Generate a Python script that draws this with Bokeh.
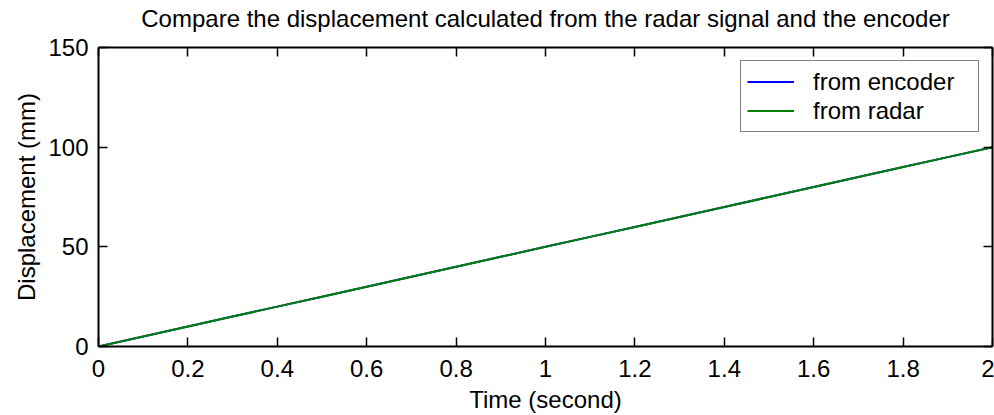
from bokeh.plotting import figure
from bokeh.models import LinearAxis, Range1d, FixedTicker, Legend, LegendItem
from bokeh.embed import file_html
from bokeh.resources import INLINE

# Data
time_s = [0.0, 0.1, 0.2, 0.3, 0.4, 0.5, 0.6, 0.7, 0.8, 0.9, 1.0,
          1.1, 1.2, 1.3, 1.4, 1.5, 1.6, 1.7, 1.8, 1.9, 2.0]
encoder_mm = [0, 5, 10, 15, 20, 25, 30, 35, 40, 45, 50,
              55, 60, 65, 70, 75, 80, 85, 90, 95, 100]
radar_mm = [0, 5, 10, 15, 20, 25, 30, 35, 40, 45, 50,
            55, 60, 65, 70, 75, 80, 85, 90, 95, 100]

x_ticks = [0, 0.2, 0.4, 0.6, 0.8, 1.0, 1.2, 1.4, 1.6, 1.8, 2.0]
x_tick_labels = ["0", "0.2", "0.4", "0.6", "0.8", "1", "1.2", "1.4", "1.6", "1.8", "2"]
y_ticks = [0, 50, 100, 150]
y_tick_labels = ["0", "50", "100", "150"]

FONT = "Liberation Sans"
FS = "24px"

p = figure(width=994, height=415, x_range=Range1d(0, 2), y_range=Range1d(0, 150),
           output_backend="svg", toolbar_location=None,
           min_border_left=98, min_border_right=2, min_border_top=47, min_border_bottom=69,
           background_fill_color="white", border_fill_color="white",
           outline_line_color=None)

p.title.text = "Compare the displacement calculated from the radar signal and the encoder"
p.title.text_font = FONT
p.title.text_font_size = FS
p.title.text_font_style = "normal"
p.title.align = "center"
p.title.text_color = "black"
p.title.standoff = 4

p.xgrid.visible = False
p.ygrid.visible = False

r1 = p.line(time_s, encoder_mm, line_color="#0000FF", line_width=2)
r2 = p.line(time_s, radar_mm, line_color="#008000", line_width=2)


def style_axis(ax, ticks, labels):
    ax.ticker = FixedTicker(ticks=ticks)
    ax.major_label_overrides = {t: l for t, l in zip(ticks, labels)}
    ax.axis_line_color = "black"
    ax.axis_line_width = 2
    ax.major_tick_line_color = "black"
    ax.major_tick_line_width = 1.5
    ax.major_tick_in = 9
    ax.major_tick_out = 0
    ax.minor_tick_in = 0
    ax.minor_tick_out = 0
    ax.major_label_text_font = FONT
    ax.major_label_text_font_size = FS
    ax.major_label_text_color = "black"
    ax.axis_label_text_font = FONT
    ax.axis_label_text_font_size = FS
    ax.axis_label_text_font_style = "normal"
    ax.axis_label_text_color = "black"


xa = p.xaxis[0]
ya = p.yaxis[0]
style_axis(xa, x_ticks, x_tick_labels)
style_axis(ya, y_ticks, y_tick_labels)
xa.axis_label = "Time (second)"
ya.axis_label = "Displacement (mm)"
xa.major_label_standoff = 13
ya.major_label_standoff = 10
xa.axis_label_standoff = 6
ya.axis_label_standoff = 5

top = LinearAxis()
right = LinearAxis()
for ax, ticks in ((top, x_ticks), (right, y_ticks)):
    style_axis(ax, ticks, ["" for _ in ticks])
    ax.major_label_text_font_size = "0px"
    ax.major_label_standoff = 0
# invisible spacer label on the top axis lifts the title away from the frame
top.axis_label = " "
top.axis_label_text_font_size = "2px"
top.axis_label_standoff = 9
p.add_layout(top, "above")
p.add_layout(right, "right")

legend = Legend(items=[LegendItem(label="from encoder", renderers=[r1]),
                       LegendItem(label="from radar", renderers=[r2])],
                location="top_right", margin=13, padding=6, spacing=0,
                glyph_width=47, glyph_height=29, label_standoff=19,
                label_width=159,
                label_text_font=FONT, label_text_font_size=FS,
                label_text_color="black",
                border_line_color="black", border_line_width=1.5,
                background_fill_color="white", background_fill_alpha=1)
p.add_layout(legend)

open("out.html", "w").write(file_html(p, INLINE))
